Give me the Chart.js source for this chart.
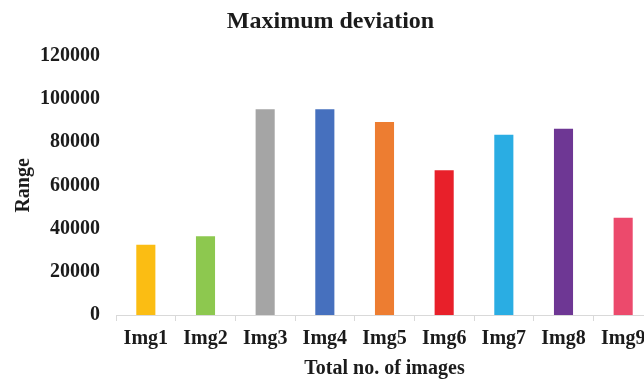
<!DOCTYPE html>
<html lang="en">

<head>
    <meta charset="UTF-8">
    <title>Maximum deviation</title>
    <script src="https://cdn.jsdelivr.net/npm/chart.js"></script>
    <style>
        html, body { margin: 0; padding: 0; background: #fff; overflow: hidden; }
        .container { position: relative; width: 656px; height: 381px; }
    </style>
</head>

<body>

    <div class="container">
        <canvas id="devChart"></canvas>
    </div>

    <script>
        const categories = ['Img1', 'Img2', 'Img3', 'Img4', 'Img5', 'Img6', 'Img7', 'Img8', 'Img9'];
        const rangeValues = [32500, 36500, 95200, 95200, 89400, 67000, 83400, 86200, 45000];
        const barColors = ['#FBBD13', '#8DC84F', '#A5A5A5', '#4670BE', '#ED7D31', '#E8202A', '#2AADE3', '#6E3794', '#EC4A6C'];
        const yTicks = [0, 20000, 40000, 60000, 80000, 100000, 120000];

        const serif = 'Liberation Serif, Times New Roman, serif';
        const textColor = '#1b1b1b';

        const ctx = document.getElementById('devChart').getContext('2d');

        new Chart(ctx, {
            type: 'bar',
            data: {
                labels: categories,
                datasets: [{
                    label: 'Range',
                    data: rangeValues,
                    backgroundColor: barColors,
                    borderWidth: 0,
                    categoryPercentage: 1,
                    barPercentage: 0.32
                }]
            },
            options: {
                responsive: true,
                maintainAspectRatio: false,
                animation: false,
                layout: { padding: { left: 8, right: 3, top: 0, bottom: 0 } },
                plugins: {
                    legend: { display: false },
                    tooltip: { enabled: false },
                    title: {
                        display: true,
                        text: 'Maximum deviation',
                        color: textColor,
                        font: { family: serif, size: 24, weight: 'bold' },
                        padding: { top: 7, bottom: 20 }
                    }
                },
                scales: {
                    x: {
                        grid: {
                            display: true,
                            drawOnChartArea: false,
                            drawTicks: true,
                            tickLength: 6,
                            color: '#D9D9D9',
                            offset: true
                        },
                        border: { display: true, color: '#D9D9D9', width: 1 },
                        ticks: {
                            color: textColor,
                            padding: 6,
                            font: { family: serif, size: 20, weight: 'bold' }
                        },
                        title: {
                            display: true,
                            text: 'Total no. of images',
                            color: textColor,
                            padding: { top: 0, bottom: 0 },
                            font: { family: serif, size: 20, weight: 'bold' }
                        }
                    },
                    y: {
                        min: yTicks[0],
                        max: yTicks[yTicks.length - 1],
                        afterBuildTicks: axis => {
                            axis.ticks = yTicks.map(v => ({ value: v }));
                        },
                        // padding is counted twice by the fit, pull the title closer
                        afterFit: axis => {
                            axis.width -= 16;
                        },
                        grid: { display: false, drawTicks: false },
                        border: { display: false },
                        ticks: {
                            color: textColor,
                            padding: 16,
                            callback: value => String(value),
                            font: { family: serif, size: 20, weight: 'bold' }
                        },
                        title: {
                            display: true,
                            text: 'Range',
                            color: textColor,
                            padding: { top: 4, bottom: 4 },
                            font: { family: serif, size: 20, weight: 'bold' }
                        }
                    }
                }
            }
        });
    </script>

</body>

</html>
